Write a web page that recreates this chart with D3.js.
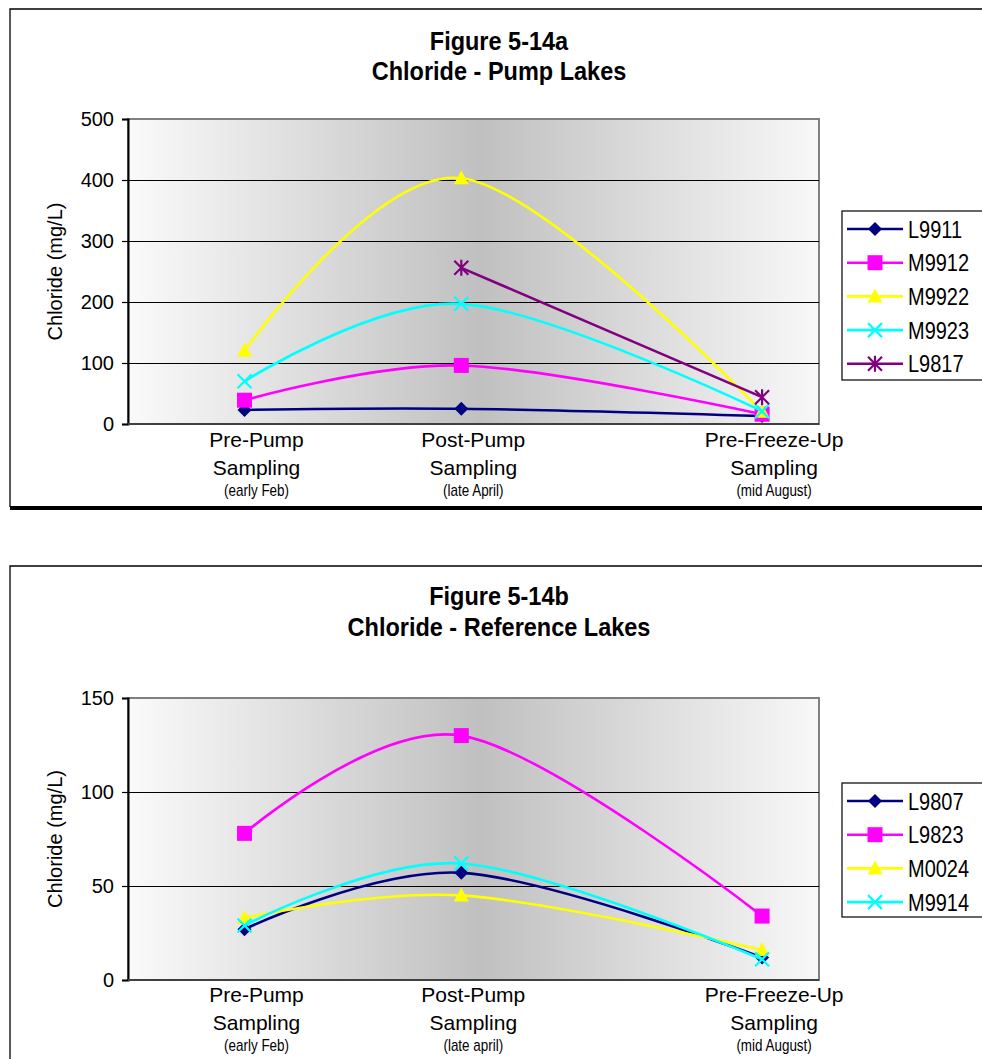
<!DOCTYPE html>
<html>
<head>
<meta charset="utf-8">
<script src="https://cdn.jsdelivr.net/npm/d3@7/dist/d3.min.js"></script>
<style>
  html, body { margin: 0; padding: 0; background: #fff; }
  svg { display: block; font-family: "Liberation Sans", Arial, sans-serif; }
</style>
</head>
<body>
<svg id="page" width="982" height="1059"></svg>
<script>
// Sampling events (day of year) and their labels
const samplingDays = [36, 116, 227];
const samplingNames = ["Pre-Pump", "Post-Pump", "Pre-Freeze-Up"];
const samplingPeriodsA = ["(early Feb)", "(late April)", "(mid August)"];
const samplingPeriodsB = ["(early Feb)", "(late april)", "(mid August)"];

// Figure 5-14a: chloride (mg/L) in pump lakes
const pumpLakes = ["L9911", "M9912", "M9922", "M9923", "L9817"];
const L9911 = [23, 25, 13];
const M9912 = [39, 96, 16];
const M9922 = [120, 403, 20];
const M9923 = [70, 197, 21];
const L9817 = [null, 256, 44];
const yTicksA = [0, 100, 200, 300, 400, 500];

// Figure 5-14b: chloride (mg/L) in reference lakes
const referenceLakes = ["L9807", "L9823", "M0024", "M9914"];
const L9807 = [27, 57, 12];
const L9823 = [78, 130, 34];
const M0024 = [33, 45, 16];
const M9914 = [29, 62, 11];
const yTicksB = [0, 50, 100, 150];

// Series styles, in legend order
const styles = [
  { color: "#000080", marker: "diamond" },
  { color: "#ff00ff", marker: "square" },
  { color: "#ffff00", marker: "triangle" },
  { color: "#00ffff", marker: "x" },
  { color: "#800080", marker: "asterisk" }
];

const svg = d3.select("#page");

// Shared plot-area gradient
const defs = svg.append("defs");
const grad = defs.append("linearGradient").attr("id", "plotFill")
  .attr("x1", "0%").attr("x2", "100%").attr("y1", "0%").attr("y2", "0%");
grad.append("stop").attr("offset", "0%").attr("stop-color", "#fafafa");
grad.append("stop").attr("offset", "51%").attr("stop-color", "#c0c0c0");
grad.append("stop").attr("offset", "100%").attr("stop-color", "#f8f8f8");

// Text squeezed horizontally (narrow face look)
function narrowText(parent, x, y, str, size, sx, anchor) {
  return parent.append("text")
    .attr("transform", `translate(${x},${y}) scale(${sx},1)`)
    .attr("text-anchor", anchor || "start")
    .attr("font-size", size).text(str);
}

function drawMarker(g, type, color) {
  if (type === "diamond") {
    g.append("path").attr("d", "M0,-7L7,0L0,7L-7,0Z").attr("fill", color);
  } else if (type === "square") {
    g.append("rect").attr("x", -7.5).attr("y", -7.5).attr("width", 15).attr("height", 15).attr("fill", color);
  } else if (type === "triangle") {
    g.append("path").attr("d", "M0,-8L7.5,6L-7.5,6Z").attr("fill", color);
  } else if (type === "x") {
    g.append("path").attr("d", "M-7,-7L7,7M-7,7L7,-7")
      .attr("stroke", color).attr("stroke-width", 2.2).attr("fill", "none");
  } else if (type === "asterisk") {
    g.append("path").attr("d", "M-7,-7L7,7M-7,7L7,-7M0,-8L0,8")
      .attr("stroke", color).attr("stroke-width", 2.2).attr("fill", "none");
  }
}

function drawChart(cfg) {
  const root = svg.append("g");

  // Chart frame
  root.append("path")
    .attr("d", `M10,${cfg.frameBottom}L10,${cfg.frameTop}L990,${cfg.frameTop}`)
    .attr("fill", "none").attr("stroke", "#000").attr("stroke-width", 1.3);
  if (cfg.shadow) {
    root.append("line").attr("x1", 10).attr("x2", 990)
      .attr("y1", cfg.frameBottom + 1).attr("y2", cfg.frameBottom + 1)
      .attr("stroke", "#000").attr("stroke-width", 4);
  }

  // Titles
  cfg.titles.forEach((t, i) => {
    narrowText(root, 499, cfg.titleY[i], t, 25, 0.94, "middle").attr("font-weight", "bold");
  });

  const x = d3.scaleLinear().domain([-7, 248]).range([cfg.left, cfg.right]);
  const y = d3.scaleLinear().domain(cfg.yDomain).range([cfg.bottom, cfg.top]);

  // Plot area
  root.append("rect")
    .attr("x", cfg.left).attr("y", cfg.top)
    .attr("width", cfg.right - cfg.left).attr("height", cfg.bottom - cfg.top)
    .attr("fill", "url(#plotFill)").attr("stroke", "#808080").attr("stroke-width", 2);

  // Gridlines
  root.append("g").selectAll("line")
    .data(cfg.ticks.filter(v => v > cfg.yDomain[0] && v < cfg.yDomain[1]))
    .join("line")
    .attr("x1", cfg.left).attr("x2", cfg.right)
    .attr("y1", d => Math.round(y(d)) + 0.5).attr("y2", d => Math.round(y(d)) + 0.5)
    .attr("stroke", "#000").attr("stroke-width", 1)
    .attr("shape-rendering", "crispEdges");

  // Y axis
  const yAxis = root.append("g")
    .attr("transform", `translate(${cfg.left},0)`)
    .call(d3.axisLeft(y).tickValues(cfg.ticks).tickSize(6).tickPadding(8).tickFormat(d3.format("d")));
  yAxis.select(".domain").attr("stroke", "#000").attr("stroke-width", 2);
  yAxis.selectAll(".tick line").attr("stroke", "#000").attr("stroke-width", 1.2);
  yAxis.selectAll(".tick text")
    .attr("font-size", 20).attr("font-family", "Liberation Sans, Arial, sans-serif").attr("fill", "#000");

  // X axis line
  root.append("line")
    .attr("x1", cfg.left).attr("x2", cfg.right)
    .attr("y1", cfg.bottom).attr("y2", cfg.bottom)
    .attr("stroke", "#404040").attr("stroke-width", 2);

  // Category labels
  samplingDays.forEach((d, i) => {
    const cx = x(d) + 12;
    root.append("text").attr("x", cx).attr("y", cfg.labelY[0]).attr("text-anchor", "middle")
      .attr("font-size", 21).text(samplingNames[i]);
    root.append("text").attr("x", cx).attr("y", cfg.labelY[1]).attr("text-anchor", "middle")
      .attr("font-size", 21).text("Sampling");
    narrowText(root, cx, cfg.labelY[2], cfg.periods[i], 16, 0.84, "middle");
  });

  // Y axis title
  const ymid = (cfg.top + cfg.bottom) / 2;
  root.append("text")
    .attr("transform", `translate(62,${ymid}) rotate(-90)`)
    .attr("text-anchor", "middle").attr("font-size", 20)
    .text("Chloride (mg/L)");

  // Series
  const line = d3.line()
    .defined(d => d.v !== null)
    .x(d => x(d.day)).y(d => y(d.v))
    .curve(d3.curveCardinal.tension(0));

  cfg.series.forEach((vals, si) => {
    const st = styles[si];
    const pts = vals.map((v, i) => ({ day: samplingDays[i], v }));
    root.append("path").datum(pts)
      .attr("d", line).attr("fill", "none")
      .attr("stroke", st.color).attr("stroke-width", 2.6);
    pts.filter(p => p.v !== null).forEach(p => {
      const g = root.append("g").attr("transform", `translate(${x(p.day)},${y(p.v)})`);
      drawMarker(g, st.marker, st.color);
    });
  });

  // Legend
  const lg = root.append("g");
  lg.append("rect").attr("x", 842).attr("y", cfg.legendTop)
    .attr("width", 160).attr("height", cfg.legendHeight)
    .attr("fill", "#fff").attr("stroke", "#000").attr("stroke-width", 1.2);
  cfg.names.forEach((n, i) => {
    const ly = cfg.legendTop + 18 + i * 33.7;
    const st = styles[i];
    lg.append("line").attr("x1", 847).attr("x2", 903).attr("y1", ly).attr("y2", ly)
      .attr("stroke", st.color).attr("stroke-width", 2.6);
    const g = lg.append("g").attr("transform", `translate(875,${ly})`);
    drawMarker(g, st.marker, st.color);
    narrowText(lg, 908, ly + 8.5, n, 23.5, 0.85);
  });
}

drawChart({
  frameTop: 9, frameBottom: 507, shadow: true,
  titles: ["Figure 5-14a", "Chloride - Pump Lakes"], titleY: [50, 80],
  left: 128, right: 819, top: 119, bottom: 424,
  yDomain: [0, 500], ticks: yTicksA,
  labelY: [447, 475, 496], periods: samplingPeriodsA,
  series: [L9911, M9912, M9922, M9923, L9817], names: pumpLakes,
  legendTop: 211, legendHeight: 169
});

drawChart({
  frameTop: 566, frameBottom: 1080, shadow: false,
  titles: ["Figure 5-14b", "Chloride - Reference Lakes"], titleY: [605, 636],
  left: 128, right: 819, top: 698, bottom: 980,
  yDomain: [0, 150], ticks: yTicksB,
  labelY: [1002, 1030, 1051], periods: samplingPeriodsB,
  series: [L9807, L9823, M0024, M9914], names: referenceLakes,
  legendTop: 783, legendHeight: 134
});
</script>
</body>
</html>
